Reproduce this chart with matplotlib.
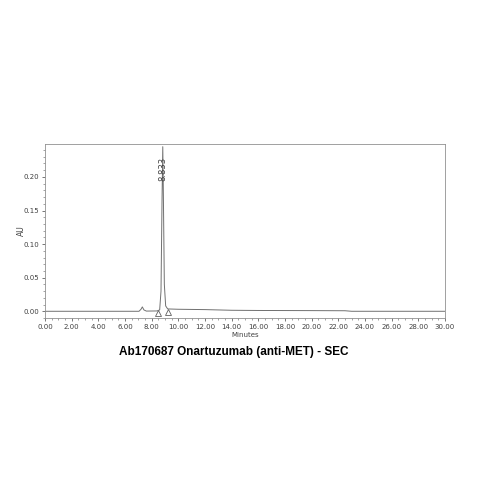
import matplotlib.pyplot as plt
from matplotlib.ticker import MultipleLocator, FormatStrFormatter

# chromatogram trace (minutes, AU)
t_min = [0.0, 7.05, 7.2, 7.3, 7.42, 7.6, 8.4, 8.6, 8.7, 8.78, 8.833, 8.88, 8.95, 9.05, 9.2,
         10.0, 12.0, 14.0, 16.0, 20.0, 22.5, 23.0, 30.0]
au = [0.0, 0.0, 0.003, 0.0065, 0.002, 0.0003, 0.0005, 0.002, 0.03, 0.17, 0.245, 0.17, 0.04,
      0.008, 0.0035, 0.003, 0.0025, 0.0015, 0.0012, 0.001, 0.0008, 0.0, 0.0]

peak_time = 8.833
peak_label = "8.833"
marker_times = [8.5, 9.2]
marker_au = [-0.0025, -0.0015]

title = "Ab170687 Onartuzumab (anti-MET) - SEC"

fig = plt.figure(figsize=(4.79, 4.79), dpi=100)
ax = fig.add_axes([45/479, 1-318/479, 400/479, 174/479])

ax.plot(t_min, au, color="#707070", lw=0.7)
ax.plot(marker_times, marker_au, linestyle="none", marker="^", ms=5,
        mfc="white", mec="#606060", mew=0.6)
ax.text(peak_time, 0.23, peak_label, rotation=90, ha="center", va="top",
        fontsize=6, color="#404040")

ax.set_xlim(0, 30)
ax.set_ylim(-0.01, 0.249)
ax.xaxis.set_major_locator(MultipleLocator(2))
ax.xaxis.set_minor_locator(MultipleLocator(0.5))
ax.xaxis.set_major_formatter(FormatStrFormatter("%.2f"))
ax.yaxis.set_major_locator(MultipleLocator(0.05))
ax.yaxis.set_minor_locator(MultipleLocator(0.01))
ax.yaxis.set_major_formatter(FormatStrFormatter("%.2f"))
ax.tick_params(labelsize=5, colors="#404040", length=2.5, width=0.5, pad=2)
ax.tick_params(which="minor", length=1.5, width=0.4, colors="#606060")
for s in ax.spines.values():
    s.set_color("#909090")
    s.set_linewidth(0.6)

ax.set_xlabel("Minutes", fontsize=5, color="#404040", labelpad=1)
ax.set_ylabel("AU", fontsize=5.5, color="#404040", labelpad=-2)

fig.text(234/479, 1-352/479, title, ha="center", va="center",
         fontsize=8.5, fontweight="bold", family="Liberation Sans")

fig.savefig("out.png", dpi=100)
